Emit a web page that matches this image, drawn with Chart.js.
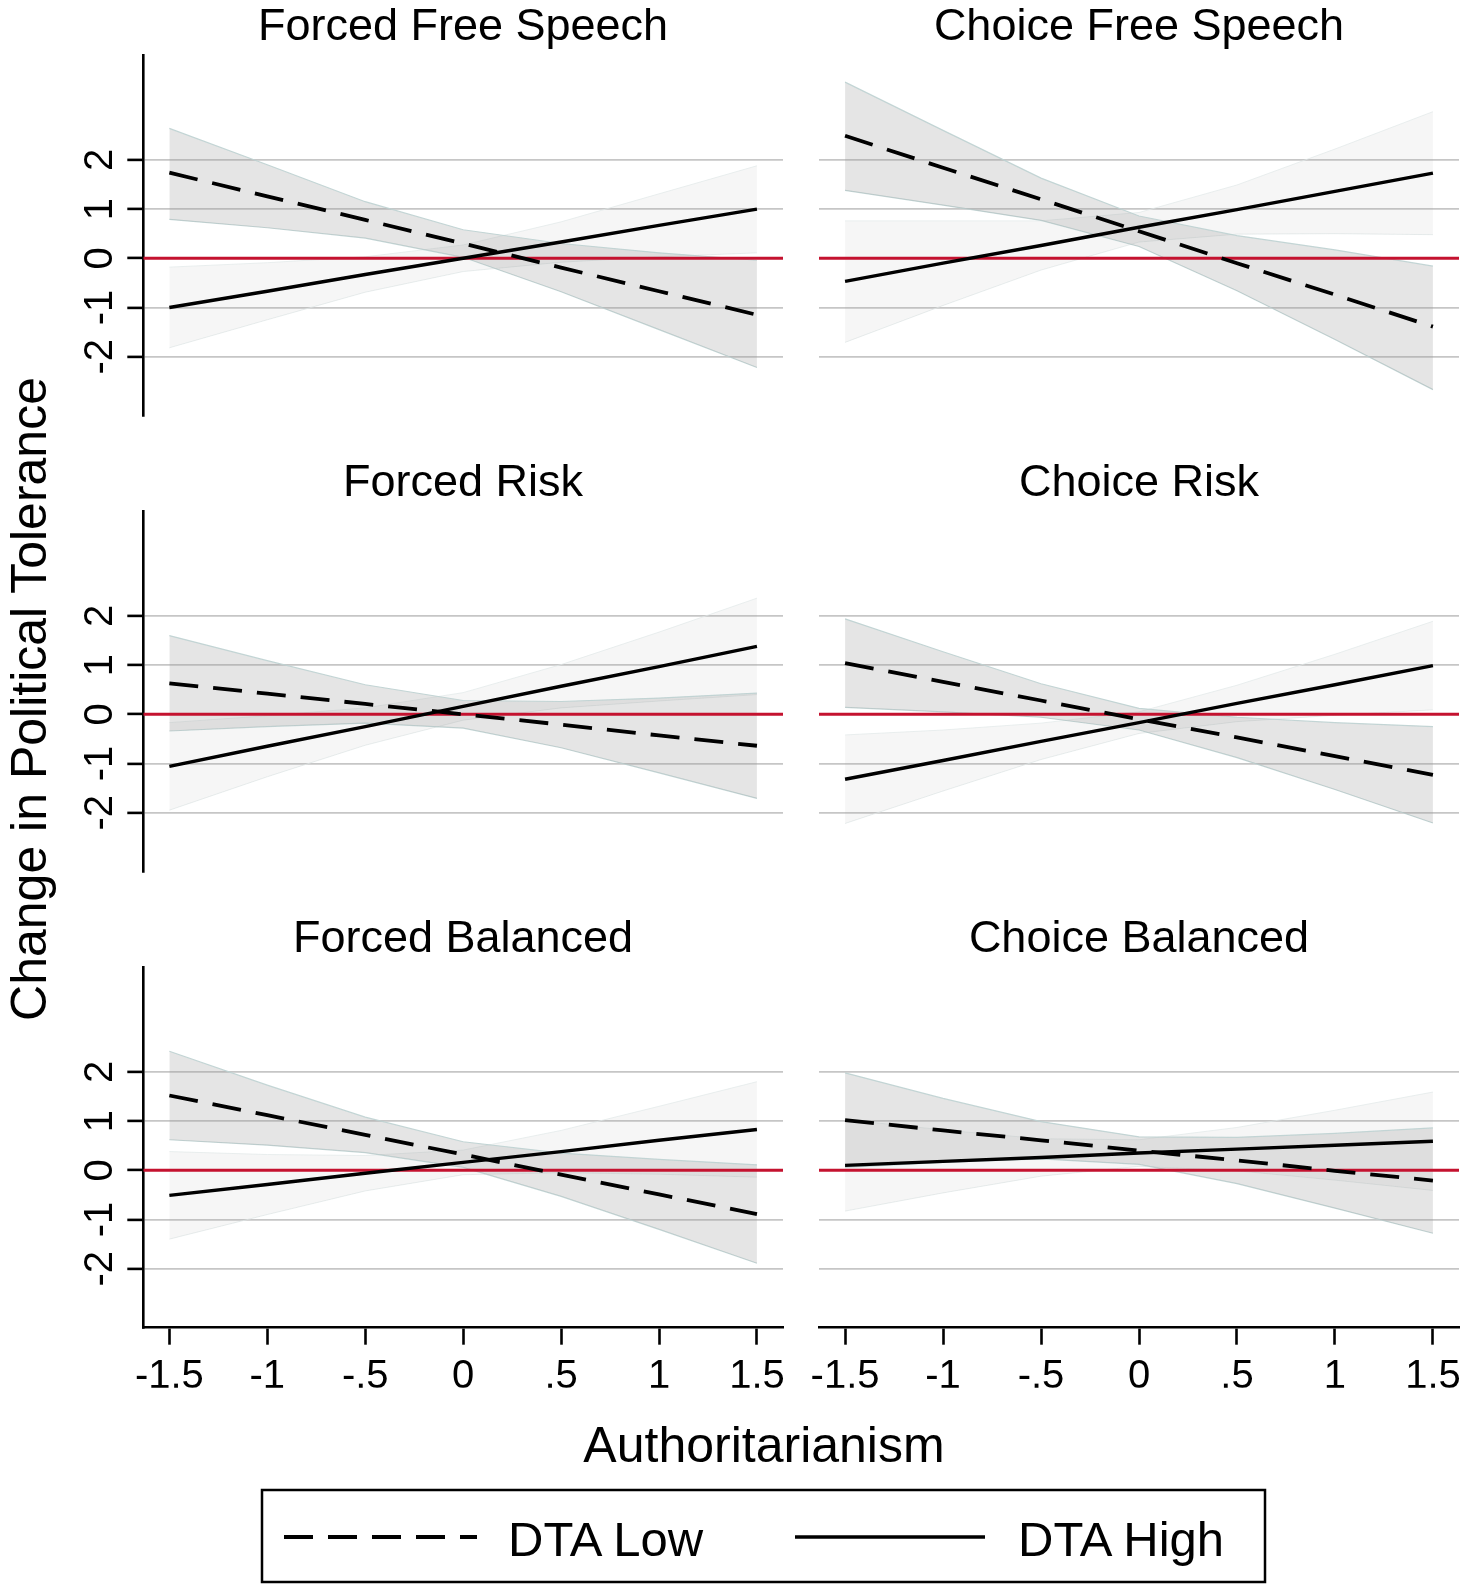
<!DOCTYPE html>
<html>
<head>
<meta charset="utf-8">
<script src="https://cdn.jsdelivr.net/npm/chart.js@4.4.0/dist/chart.umd.min.js"></script>
<style>
  html, body { margin: 0; padding: 0; background: #fff; }
  body { width: 1476px; height: 1593px; position: relative; overflow: hidden; }
  canvas { position: absolute; }
  svg.overlay { position: absolute; left: 0; top: 0; pointer-events: none; }
  svg text { font-family: "Liberation Sans", Arial, sans-serif; fill: #000; }
</style>
</head>
<body>
<div id="wrap"></div>
<svg class="overlay" width="1476" height="1593" xmlns="http://www.w3.org/2000/svg">
  <g id="titles"></g>
  <text x="0" y="0" font-size="50" text-anchor="middle" transform="translate(46,699) rotate(-90)">Change in Political Tolerance</text>
  <text x="764" y="1462" font-size="50" text-anchor="middle">Authoritarianism</text>
  <rect x="262" y="1490" width="1003" height="92" fill="none" stroke="#000" stroke-width="2.5"/>
  <line x1="284" y1="1537" x2="477" y2="1537" stroke="#000" stroke-width="3.8" stroke-dasharray="29 15"/>
  <text x="508" y="1556" font-size="49" id="legLow"></text>
  <line x1="795" y1="1537" x2="985" y2="1537" stroke="#000" stroke-width="3.4"/>
  <text x="1018" y="1556" font-size="49" id="legHigh"></text>
</svg>
<script>
// ---------------- data ----------------
const panelTitles = ["Forced Free Speech", "Choice Free Speech", "Forced Risk", "Choice Risk", "Forced Balanced", "Choice Balanced"];
const seriesNames = ["DTA Low", "DTA High"];
const xPoints = [-1.5, -1, -0.5, 0, 0.5, 1, 1.5];
const xTickValues = [-1.5, -1, -0.5, 0, 0.5, 1, 1.5];
const xTickLabels = ["-1.5", "-1", "-.5", "0", ".5", "1", "1.5"];
const yTickValues = [-2, -1, 0, 1, 2];
const yTickLabels = ["-2", "-1", "0", "1", "2"];
const referenceY = 0;
const xAxisMin = -1.633, xAxisMax = 1.633;
const yAxisMin = -3.2, yAxisMax = 4.13;

// DTA Low (dashed) estimate, one row per panel
const dtaLowEst = [
  [1.74, 1.26, 0.78, 0.30, -0.19, -0.67, -1.15],
  [2.49, 1.84, 1.20, 0.55, -0.10, -0.74, -1.39],
  [0.63, 0.42, 0.21, 0.00, -0.21, -0.43, -0.64],
  [1.04, 0.66, 0.28, -0.10, -0.47, -0.85, -1.23],
  [1.52, 1.12, 0.72, 0.32, -0.09, -0.49, -0.89],
  [1.02, 0.81, 0.61, 0.40, 0.20, -0.01, -0.21]
];
const dtaLowUpper = [
  [2.64, 1.90, 1.15, 0.58, 0.30, 0.11, -0.04],
  [3.58, 2.60, 1.63, 0.86, 0.46, 0.17, -0.16],
  [1.60, 1.09, 0.60, 0.28, 0.26, 0.33, 0.43],
  [1.94, 1.27, 0.62, 0.12, -0.06, -0.17, -0.25],
  [2.42, 1.73, 1.08, 0.58, 0.35, 0.22, 0.11],
  [1.98, 1.46, 0.99, 0.68, 0.67, 0.75, 0.86]
];
const dtaLowLower = [
  [0.79, 0.62, 0.41, 0.02, -0.68, -1.45, -2.22],
  [1.38, 1.08, 0.77, 0.24, -0.66, -1.65, -2.67],
  [-0.34, -0.25, -0.18, -0.28, -0.68, -1.19, -1.71],
  [0.14, 0.05, -0.06, -0.32, -0.88, -1.53, -2.21],
  [0.62, 0.51, 0.36, 0.06, -0.53, -1.20, -1.89],
  [0.06, 0.16, 0.23, 0.12, -0.27, -0.77, -1.28]
];
// DTA High (solid) estimate
const dtaHighEst = [
  [-1.00, -0.67, -0.33, 0.00, 0.33, 0.67, 1.00],
  [-0.47, -0.10, 0.26, 0.63, 0.99, 1.36, 1.73],
  [-1.06, -0.65, -0.25, 0.16, 0.57, 0.97, 1.38],
  [-1.32, -0.94, -0.55, -0.17, 0.22, 0.60, 0.99],
  [-0.51, -0.29, -0.06, 0.16, 0.38, 0.61, 0.83],
  [0.10, 0.18, 0.26, 0.35, 0.43, 0.51, 0.59]
];
const dtaHighUpper = [
  [-0.18, -0.09, 0.03, 0.27, 0.74, 1.31, 1.88],
  [0.76, 0.76, 0.76, 0.93, 1.49, 2.22, 2.98],
  [-0.17, -0.03, 0.13, 0.44, 1.01, 1.67, 2.36],
  [-0.42, -0.32, -0.18, 0.05, 0.59, 1.22, 1.89],
  [0.38, 0.32, 0.30, 0.41, 0.81, 1.30, 1.80],
  [1.03, 0.82, 0.64, 0.62, 0.87, 1.22, 1.59]
];
const dtaHighLower = [
  [-1.82, -1.25, -0.69, -0.27, -0.08, 0.03, 0.11],
  [-1.71, -0.96, -0.24, 0.33, 0.49, 0.50, 0.48],
  [-1.95, -1.27, -0.63, -0.12, 0.13, 0.27, 0.40],
  [-2.22, -1.56, -0.92, -0.39, -0.15, -0.02, 0.09],
  [-1.40, -0.90, -0.42, -0.09, -0.05, -0.08, -0.14],
  [-0.83, -0.46, -0.12, 0.08, -0.01, -0.20, -0.41]
];

// ---------------- styles ----------------
const FONT = '"Liberation Sans", Arial, sans-serif';
const darkFill = 'rgba(150,150,150,0.25)';
const darkEdge = 'rgba(190,210,210,0.9)';
const lightFill = 'rgba(150,150,150,0.09)';
const lightEdge = 'rgba(225,232,232,0.7)';
const redLine = '#c4122f';

// static text
const SVGNS = 'http://www.w3.org/2000/svg';
const titleG = document.getElementById('titles');
const titleCenterX = [463, 1139];
const titleBaseY = [40, 496, 952];
panelTitles.forEach((t, i) => {
  const el = document.createElementNS(SVGNS, 'text');
  el.setAttribute('x', titleCenterX[i % 2]);
  el.setAttribute('y', titleBaseY[Math.floor(i / 2)]);
  el.setAttribute('font-size', '45');
  el.setAttribute('text-anchor', 'middle');
  el.textContent = t;
  titleG.appendChild(el);
});
document.getElementById('legLow').textContent = seriesNames[0];
document.getElementById('legHigh').textContent = seriesNames[1];

// y tick labels, rotated, drawn from the library's y scale
const yTickLabelPlugin = {
  id: 'yTickLabels',
  afterDraw(chart, args, opts) {
    if (!opts.show) return;
    const s = chart.scales.y;
    const ctx = chart.ctx;
    ctx.save();
    ctx.font = '40px ' + FONT;
    ctx.fillStyle = '#000';
    ctx.textAlign = 'center';
    ctx.textBaseline = 'alphabetic';
    yTickValues.forEach((v, i) => {
      const py = s.getPixelForValue(v);
      ctx.save();
      ctx.translate(s.right - 31.6, py);
      ctx.rotate(-Math.PI / 2);
      ctx.fillText(yTickLabels[i], 0, 0);
      ctx.restore();
    });
    ctx.restore();
  }
};

function pts(vals) { return xPoints.map((x, i) => ({ x: x, y: vals[i] })); }

const wrap = document.getElementById('wrap');
panelTitles.forEach((title, p) => {
  const col = p % 2, row = Math.floor(p / 2);
  const cv = document.createElement('canvas');
  const w = col === 0 ? 800 : 676;
  const h = 500;
  cv.width = w; cv.height = h;
  cv.style.left = (col === 0 ? 0 : 800) + 'px';
  cv.style.top = (row * 456) + 'px';
  cv.style.width = w + 'px'; cv.style.height = h + 'px';
  wrap.appendChild(cv);
  const bottomRow = row === 2;
  const leftCol = col === 0;

  new Chart(cv, {
    type: 'line',
    data: {
      datasets: [
        { label: seriesNames[0], data: pts(dtaLowEst[p]), borderColor: '#000', borderWidth: 3.8,
          borderDash: [29, 15], fill: false, order: 1 },
        { label: seriesNames[1], data: pts(dtaHighEst[p]), borderColor: '#000', borderWidth: 3.4,
          fill: false, order: 1 },
        { label: 'ref', data: [{ x: xAxisMin, y: referenceY }, { x: xAxisMax, y: referenceY }],
          borderColor: redLine, borderWidth: 3, fill: false, order: 2 },
        { label: 'lowUpper', data: pts(dtaLowUpper[p]), borderColor: darkEdge, borderWidth: 1.2,
          backgroundColor: darkFill, fill: '+1', order: 3 },
        { label: 'lowLower', data: pts(dtaLowLower[p]), borderColor: darkEdge, borderWidth: 1.2,
          fill: false, order: 3 },
        { label: 'highUpper', data: pts(dtaHighUpper[p]), borderColor: lightEdge, borderWidth: 1,
          backgroundColor: lightFill, fill: '+1', order: 4 },
        { label: 'highLower', data: pts(dtaHighLower[p]), borderColor: lightEdge, borderWidth: 1,
          fill: false, order: 4 }
      ]
    },
    options: {
      responsive: false,
      animation: false,
      devicePixelRatio: 1,
      events: [],
      layout: { autoPadding: false, padding: { left: leftCol ? 0 : 19, right: 17, top: 55.1, bottom: 24.3 } },
      elements: { point: { radius: 0 }, line: { tension: 0, borderCapStyle: 'butt' } },
      plugins: {
        legend: { display: false },
        tooltip: { enabled: false },
        filler: { propagate: false, drawTime: 'beforeDatasetDraw' },
        yTickLabels: { show: leftCol }
      },
      scales: {
        x: {
          type: 'linear', min: xAxisMin, max: xAxisMax,
          afterBuildTicks: s => { s.ticks = xTickValues.map(v => ({ value: v })); },
          afterFit: s => { s.height = 60; },
          border: { display: bottomRow, color: '#000', width: 2.6 },
          grid: { display: bottomRow, drawOnChartArea: false, drawTicks: true, tickLength: 17,
                  tickColor: '#000', tickWidth: 2.6 },
          ticks: { display: bottomRow, padding: 8, color: '#000', font: { family: FONT, size: 40 },
                   autoSkip: false, maxRotation: 0, minRotation: 0,
                   callback: (v, i) => xTickLabels[i] }
        },
        y: {
          type: 'linear', min: yAxisMin, max: yAxisMax,
          afterBuildTicks: s => { s.ticks = yTickValues.map(v => ({ value: v })); },
          afterFit: s => { s.width = leftCol ? 143.3 : 0; },
          border: { display: leftCol, color: '#000', width: 2.6 },
          grid: { display: true, color: '#c6c6c6', lineWidth: 1.8, drawTicks: leftCol, tickLength: 16,
                  tickColor: '#000', tickWidth: 2.6 },
          ticks: { display: false }
        }
      }
    },
    plugins: [yTickLabelPlugin]
  });
});
</script>
</body>
</html>
